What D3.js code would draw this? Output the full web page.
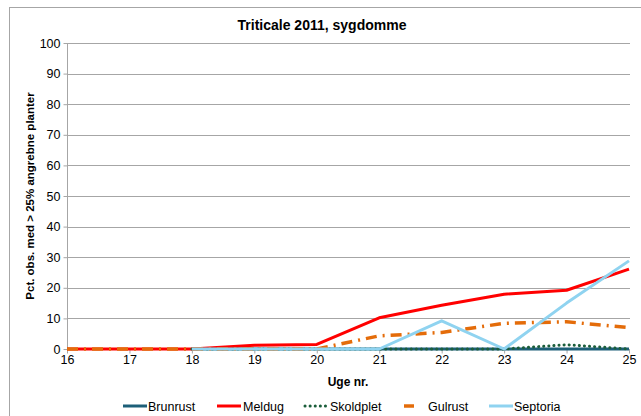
<!DOCTYPE html>
<html><head><meta charset="utf-8">
<script src="https://cdn.jsdelivr.net/npm/d3@7"></script>
<style>body{margin:0;background:#fff;}svg{display:block;font-family:"Liberation Sans",Arial,sans-serif;}</style>
</head><body>
<svg id="c" width="641" height="416"></svg>
<script>
const weeks = [16,17,18,19,20,21,22,23,24,25];
const brunrust = [null,null,0,0,0,0,0,0,0,0];
const meldug = [0,0,0,1.2,1.5,10.2,14.3,17.9,19.2,26.1];
const skoldplet = [null,null,0,0,0,0,0,0,1.4,0];
const gulrust = [0,0,0,0,0,4.3,5.4,8.4,8.9,7.0];
const septoria = [null,null,0,0,0,0,9.2,0,15,28.8];
const yTicks = [0,10,20,30,40,50,60,70,80,90,100];
const seriesNames = ["Brunrust","Meldug","Skoldplet","Gulrust","Septoria"];

const styles = {
  Brunrust:{color:"#1d5f78",w:3,dash:null,cap:"butt"},
  Meldug:{color:"#ff0000",w:3,dash:null,cap:"butt"},
  Skoldplet:{color:"#1b5e3b",w:3,dash:"0.1,5",cap:"round"},
  Gulrust:{color:"#e46c0a",w:3.5,dash:"11,6,2,6",cap:"butt"},
  Septoria:{color:"#8fd3f0",w:3,dash:null,cap:"butt"}
};
const data = {Brunrust:brunrust,Meldug:meldug,Skoldplet:skoldplet,Gulrust:gulrust,Septoria:septoria};

const svg = d3.select("#c");
// outer chart border
svg.append("rect").attr("x",9.5).attr("y",7.5).attr("width",660).attr("height",440)
  .attr("fill","none").attr("stroke","#a6a6a6").attr("stroke-width",1);

const x = d3.scaleLinear().domain([16,25]).range([67,629]);
const y = d3.scaleLinear().domain([0,100]).range([349,43]);

// gridlines
svg.append("g").selectAll("line").data(yTicks.filter(d=>d>0)).join("line")
  .attr("x1",67).attr("x2",630).attr("y1",d=>Math.round(y(d))+0.5).attr("y2",d=>Math.round(y(d))+0.5)
  .attr("stroke","#a6a6a6").attr("stroke-width",1);

// y axis
const ya = svg.append("g").attr("transform","translate(67.5,0)")
  .call(d3.axisLeft(y).tickValues(yTicks).tickSize(4).tickPadding(3));
ya.select(".domain").attr("stroke","#a6a6a6").attr("d","M0,"+y(100)+"V"+y(0));
ya.selectAll(".tick line").attr("stroke","#a6a6a6");
ya.selectAll("text").attr("font-size",12.5).attr("fill","#000").attr("font-family","Liberation Sans, Arial");

// x axis
const xa = svg.append("g").attr("transform","translate(0,349.5)")
  .call(d3.axisBottom(x).tickValues(weeks).tickFormat(d3.format("d")).tickSize(4).tickPadding(2));
xa.select(".domain").attr("stroke","#a6a6a6").attr("d","M67,0H630");
xa.selectAll(".tick line").attr("stroke","#a6a6a6");
xa.selectAll("text").attr("font-size",12.5).attr("fill","#000").attr("font-family","Liberation Sans, Arial");

// lines
const line = d3.line().defined(d=>d[1]!==null).x(d=>x(d[0])).y(d=>y(d[1]));
seriesNames.forEach(n=>{
  const s = styles[n];
  svg.append("path").datum(weeks.map((w,i)=>[w,data[n][i]]))
    .attr("d",line).attr("fill","none").attr("stroke",s.color).attr("stroke-width",s.w)
    .attr("stroke-dasharray",s.dash).attr("stroke-linecap",s.cap).attr("stroke-linejoin","round");
});

// title
svg.append("text").attr("x",322).attr("y",30).attr("text-anchor","middle")
  .attr("font-size",14).attr("font-weight","bold").text("Triticale 2011, sygdomme");
// axis titles
svg.append("text").attr("transform","translate(34,196) rotate(-90)").attr("text-anchor","middle")
  .attr("font-size",11.5).attr("font-weight","bold").text("Pct. obs. med > 25% angrebne planter");
svg.append("text").attr("x",348).attr("y",386).attr("text-anchor","middle")
  .attr("font-size",12).attr("font-weight","bold").text("Uge nr.");

// legend
const legX = {Brunrust:[123,147,148],Meldug:[217,241,243],Skoldplet:[305,328,330],Gulrust:[404,414,428],Septoria:[489,513,514]};
const lg = svg.append("g");
seriesNames.forEach(n=>{
  const s = styles[n]; const p = legX[n];
  lg.append("line").attr("x1",p[0]).attr("x2",p[1]).attr("y1",406).attr("y2",406)
    .attr("stroke",s.color).attr("stroke-width",s.w)
    .attr("stroke-dasharray",n==="Skoldplet"?s.dash:null).attr("stroke-linecap",s.cap);
  lg.append("text").attr("x",p[2]).attr("y",410.5).attr("font-size",12.5).text(n);
});
</script>
</body></html>
